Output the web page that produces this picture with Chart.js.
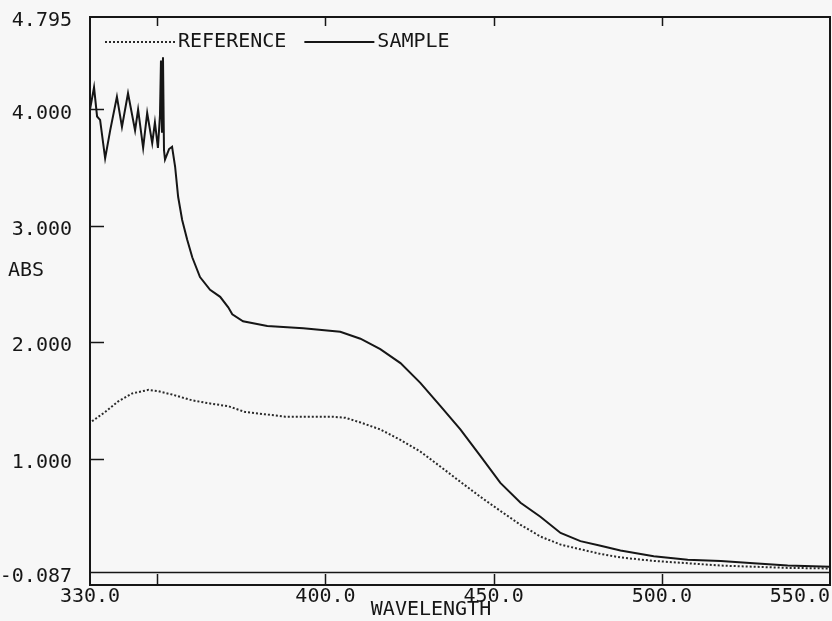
<!DOCTYPE html>
<html>
<head>
<meta charset="utf-8">
<script src="https://cdn.jsdelivr.net/npm/chart.js@4/dist/chart.umd.min.js"></script>
<style>
  html, body { margin: 0; padding: 0; background: #f7f7f7; }
  #wrap { width: 832px; height: 621px; position: relative; }
</style>
</head>
<body>
<div id="wrap"><canvas id="c" width="832" height="621"></canvas></div>
<script>
// ---- data ----
const sampleWavelength = [330.0, 331.2, 332.1, 333.0, 334.5, 336.0, 338.0, 339.5, 341.3, 343.4, 344.3, 345.8, 347.0, 348.5, 349.3, 350.2, 350.8, 351.1, 351.4, 351.7, 352.0, 352.3, 353.5, 354.4, 355.3, 356.2, 357.4, 358.9, 360.4, 362.7, 365.7, 368.7, 371.1, 372.3, 375.5, 382.7, 393.4, 404.4, 410.4, 416.3, 422.3, 428.2, 434.2, 440.1, 446.1, 452.0, 458.0, 463.9, 469.9, 475.8, 481.8, 487.7, 497.6, 507.7, 517.5, 527.3, 537.4, 550.0];
const sampleAbs = [4.00, 4.19, 3.94, 3.91, 3.58, 3.82, 4.11, 3.85, 4.14, 3.82, 4.00, 3.67, 3.97, 3.71, 3.89, 3.67, 3.95, 4.42, 3.80, 4.45, 3.65, 3.57, 3.66, 3.68, 3.51, 3.25, 3.05, 2.88, 2.73, 2.56, 2.45, 2.39, 2.30, 2.24, 2.18, 2.14, 2.12, 2.09, 2.03, 1.94, 1.82, 1.65, 1.45, 1.25, 1.02, 0.79, 0.62, 0.50, 0.36, 0.29, 0.25, 0.21, 0.16, 0.13, 0.12, 0.10, 0.08, 0.07];

const referenceWavelength = [330.6, 334.5, 338.3, 342.6, 347.4, 350.1, 354.4, 360.4, 366.3, 371.1, 376.1, 382.1, 388.0, 394.0, 402.0, 406.0, 410.4, 416.3, 422.3, 428.2, 434.2, 440.1, 446.1, 452.0, 458.0, 463.9, 469.9, 475.8, 481.8, 487.7, 497.6, 507.7, 517.5, 527.3, 537.4, 550.0];
const referenceAbs = [1.32, 1.40, 1.49, 1.56, 1.59, 1.58, 1.55, 1.50, 1.47, 1.45, 1.40, 1.38, 1.36, 1.36, 1.36, 1.35, 1.31, 1.25, 1.16, 1.06, 0.93, 0.80, 0.67, 0.55, 0.43, 0.33, 0.26, 0.22, 0.18, 0.15, 0.12, 0.10, 0.08, 0.07, 0.06, 0.055];

const baselineWavelength = [330.0, 550.0];
const baselineAbs = [0.02, 0.02];

const xTickValues = [330, 350, 400, 450, 500, 550];
const xTickLabels = ['330.0', '', '400.0', '450.0', '500.0', '550.0'];
const yTickValues = [-0.087, 1, 2, 3, 4, 4.795];
const yTickLabels = ['-0.087', '1.000', '2.000', '3.000', '4.000', '4.795'];

const xMin = 330, xMax = 550, yMin = -0.087, yMax = 4.795;
const seriesNames = ['REFERENCE', 'SAMPLE'];

// ---- build ----
const toPts = (xs, ys) => xs.map((x, i) => ({ x: x, y: ys[i] }));
const FONT = 'DejaVu Sans Mono';
const FSIZE = 20;
const INK = '#161616';

Chart.defaults.font.family = FONT;
Chart.defaults.font.size = FSIZE;
Chart.defaults.color = INK;

const framePlugin = {
  id: 'frame',
  afterDraw(chart) {
    const ctx = chart.ctx;
    const { left, right, top, bottom } = chart.chartArea;
    const xs = chart.scales.x, ys = chart.scales.y;
    ctx.save();
    ctx.strokeStyle = INK;
    ctx.lineWidth = 2;
    ctx.strokeRect(left, top, right - left, bottom - top);
    ctx.beginPath();
    xTickValues.forEach(v => {
      if (v <= xMin || v >= xMax) return;
      const px = Math.round(xs.getPixelForValue(v)) + 0.5;
      ctx.moveTo(px, bottom); ctx.lineTo(px, bottom - 11);
      ctx.moveTo(px, top); ctx.lineTo(px, top + 9);
    });
    yTickValues.forEach(v => {
      if (v <= yMin || v >= yMax) return;
      const py = Math.round(ys.getPixelForValue(v)) + 0.5;
      ctx.moveTo(left, py); ctx.lineTo(left + 14, py);
    });
    ctx.lineWidth = 1.5;
    ctx.stroke();

    // legend inside the plot area, one row, built from the datasets
    ctx.font = FSIZE + 'px ' + FONT;
    ctx.textBaseline = 'middle';
    ctx.textAlign = 'left';
    ctx.fillStyle = INK;
    let cx = left + 15;
    const cy = top + 25;
    chart.data.datasets.forEach(ds => {
      if (ds.label === 'baseline') return;
      ctx.save();
      ctx.strokeStyle = ds.borderColor;
      ctx.lineWidth = ds.borderWidth;
      ctx.setLineDash(ds.borderDash || []);
      ctx.beginPath();
      ctx.moveTo(cx, cy); ctx.lineTo(cx + 70, cy);
      ctx.stroke();
      ctx.restore();
      ctx.fillText(ds.label, cx + 73, cy);
      cx += 73 + ctx.measureText(ds.label).width + 18;
    });

    // axis titles
    ctx.fillText('ABS', 8, 271);
    ctx.textAlign = 'center';
    ctx.fillText('WAVELENGTH', 431, 610);
    ctx.restore();
  }
};

new Chart(document.getElementById('c'), {
  type: 'line',
  data: {
    datasets: [
      {
        label: seriesNames[0],
        data: toPts(referenceWavelength, referenceAbs),
        borderColor: '#2a2a2a',
        borderWidth: 2,
        borderDash: [2, 2],
        pointRadius: 0,
        tension: 0
      },
      {
        label: seriesNames[1],
        data: toPts(sampleWavelength, sampleAbs),
        borderColor: INK,
        borderWidth: 2,
        pointRadius: 0,
        tension: 0
      },
      {
        label: 'baseline',
        data: toPts(baselineWavelength, baselineAbs),
        borderColor: INK,
        borderWidth: 1.5,
        pointRadius: 0,
        tension: 0
      }
    ]
  },
  options: {
    responsive: false,
    animation: false,
    layout: { padding: { top: 17, right: 2, bottom: 0, left: 0 } },
    plugins: {
      tooltip: { enabled: false },
      legend: { display: false }
    },
    scales: {
      x: {
        type: 'linear',
        min: xMin,
        max: xMax,
        grid: { display: false, drawTicks: false },
        border: { display: false },
        afterBuildTicks: s => { s.ticks = xTickValues.map(v => ({ value: v })); },
        afterFit: s => { s.height = 36; s.paddingLeft = 0; s.paddingRight = 0; },
        ticks: {
          autoSkip: false,
          maxRotation: 0,
          minRotation: 0,
          padding: 0,
          color: INK,
          callback: v => {
            const lab = xTickLabels[xTickValues.indexOf(v)];
            return v === xMax ? lab + '     ' : lab;
          }
        }
      },
      y: {
        type: 'linear',
        min: yMin,
        max: yMax,
        grid: { display: false, drawTicks: false },
        border: { display: false },
        afterBuildTicks: s => { s.ticks = yTickValues.map(v => ({ value: v })); },
        afterFit: s => { s.width = 90; s.paddingTop = 0; s.paddingBottom = 0; },
        ticks: {
          autoSkip: false,
          padding: 18,
          labelOffset: 4,
          color: INK,
          callback: v => {
            const lab = yTickLabels[yTickValues.indexOf(v)];
            return v === yMin ? [lab, ''] : lab;
          }
        }
      }
    }
  },
  plugins: [framePlugin]
});
</script>
</body>
</html>
